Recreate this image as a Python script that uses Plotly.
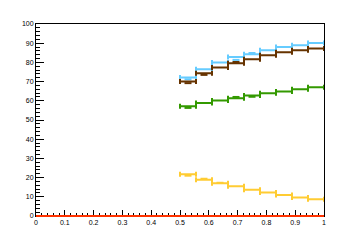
import plotly.graph_objects as go

# bin edges: 9 bins from 0.5 to 1.0
bin_lo = 0.5
bin_w = 0.5 / 9
centers = [bin_lo + bin_w * (i + 0.5) for i in range(9)]

blue = [72.2, 76.4, 80.0, 82.8, 84.2, 86.3, 88.0, 88.9, 90.1]
brown = [70.1, 74.3, 77.4, 79.5, 81.6, 83.7, 85.3, 86.3, 87.3]
green = [57.1, 58.9, 60.2, 61.3, 62.8, 63.9, 64.9, 66.0, 67.0]
yellow = [21.7, 18.9, 17.0, 15.5, 13.7, 12.3, 10.9, 9.7, 8.7]

# small point markers seen in some bins (None = hidden under the bar)
blue_pts = [71.2, None, None, 81.3, 84.9, None, None, None, None]
brown_pts = [69.2, 73.5, None, 80.2, None, None, None, None, None]
green_pts = [56.3, None, None, 62.0, 62.1, None, None, None, None]
yellow_pts = [21.0, 19.4, 17.3, None, None, None, None, None, None]

# red empty histogram over the full range (10 bins, 0..1)
zero_centers = [0.05 + 0.1 * i for i in range(10)]
zero_vals = [0.0] * 10

x_ticks = [i / 10 for i in range(11)]
x_labels = ["0", "0.1", "0.2", "0.3", "0.4", "0.5", "0.6", "0.7", "0.8", "0.9", "1"]
y_ticks = list(range(0, 101, 10))
y_labels = [str(v) for v in y_ticks]

series = [
    (blue, blue_pts, "#66ccff"),
    (brown, brown_pts, "#663300"),
    (green, green_pts, "#339900"),
    (yellow, yellow_pts, "#ffcc33"),
]

fig = go.Figure()
for vals, pts, col in series:
    fig.add_trace(go.Scatter(
        x=centers, y=vals, mode="markers",
        marker=dict(size=1, color="rgba(0,0,0,0)"),
        error_x=dict(type="constant", value=bin_w / 2, thickness=2, width=2.5, color=col),
        showlegend=False, cliponaxis=False,
    ))
    fig.add_trace(go.Scatter(
        x=centers, y=pts, mode="markers",
        marker=dict(symbol="line-ew", size=5, line=dict(width=2, color=col)),
        showlegend=False, cliponaxis=False,
    ))

fig.add_trace(go.Scatter(
    x=zero_centers, y=zero_vals, mode="lines",
    line=dict(color="#ff3300", width=2),
    error_x=dict(type="constant", value=0.05, thickness=2, width=0, color="#ff3300"),
    showlegend=False, cliponaxis=False,
))

# red zero line drawn above the axis line (spans the histogram range)
fig.add_shape(type="line", xref="x", yref="paper",
              x0=zero_centers[0] - 0.05, x1=zero_centers[-1] + 0.05, y0=zero_vals[0], y1=zero_vals[-1],
              line=dict(color="#ff3300", width=2), layer="above")

font = dict(family="Liberation Sans", size=7, color="black")
fig.update_layout(
    width=360, height=240,
    margin=dict(l=36, r=36, t=24, b=24),
    paper_bgcolor="white", plot_bgcolor="white",
    xaxis=dict(range=[0, 1], tickvals=x_ticks, ticktext=x_labels,
               ticks="inside", ticklen=6, tickwidth=1, tickcolor="black",
               minor=dict(ticks="inside", ticklen=3, dtick=0.02, tickcolor="black", tickwidth=1),
               showline=True, linecolor="black", linewidth=1, mirror=True,
               showgrid=False, zeroline=False, tickfont=font, layer="below traces"),
    yaxis=dict(range=[0, 100], tickvals=y_ticks, ticktext=y_labels,
               ticks="inside", ticklen=8, tickwidth=1, tickcolor="black",
               minor=dict(ticks="inside", ticklen=4, dtick=2, tickcolor="black", tickwidth=1),
               showline=True, linecolor="black", linewidth=1, mirror=True,
               showgrid=False, zeroline=False, tickfont=font, layer="below traces"),
)

fig.write_html("out.html")
